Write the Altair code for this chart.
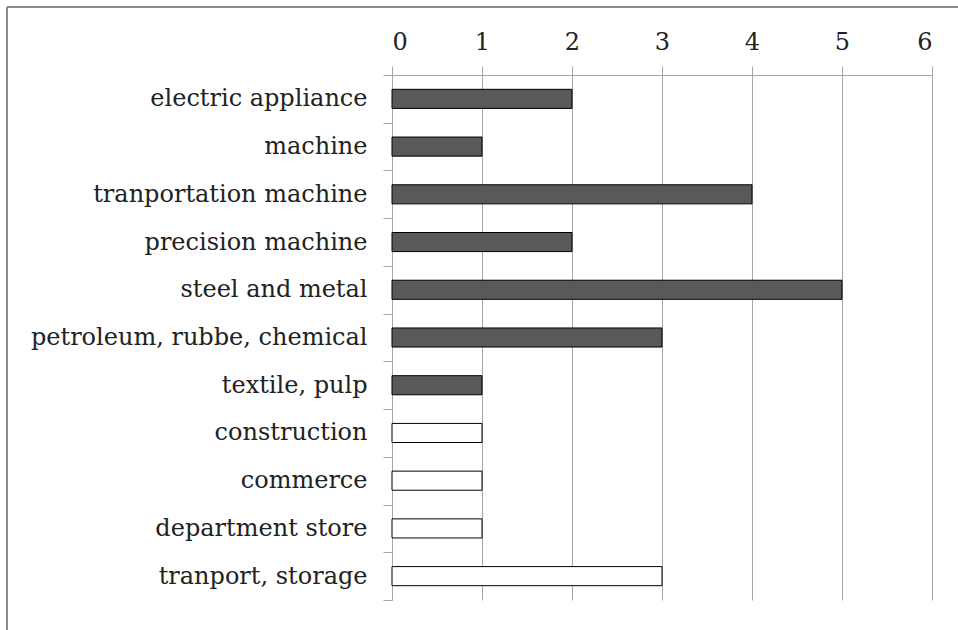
import altair as alt
import pandas as pd

categories = [
    "electric appliance", "machine", "tranportation machine", "precision machine",
    "steel and metal", "petroleum, rubbe, chemical\u2002", "textile, pulp\u2002", "construction",
    "commerce", "department store", "tranport, storage",
]
values = [2, 1, 4, 2, 5, 3, 1, 1, 1, 1, 3]
groups = ["manufacturing"] * 7 + ["non-manufacturing"] * 4

df = pd.DataFrame({"category": categories, "value": values, "group": groups})

FONT = "DejaVu Serif"

bars = alt.Chart(df).mark_bar(
    stroke="black", strokeWidth=1, height=alt.RelativeBandSize(0.4)
).encode(
    x=alt.X("value:Q", scale=alt.Scale(domain=[0, 6], nice=False),
            axis=alt.Axis(orient="top", values=[0, 1, 2, 3, 4, 5, 6], format="d",
                          title=None, grid=True, gridColor="#a6a6a6", gridWidth=1,
                          domainColor="#a6a6a6", tickColor="#a6a6a6", tickSize=9,
                          labelFont=FONT, labelFontSize=24, labelColor="#222",
                          labelPadding=12)),
    y=alt.Y("category:N", sort=categories,
            scale=alt.Scale(paddingInner=0, paddingOuter=0),
            axis=alt.Axis(title=None, tickBand="extent", domainColor="#a6a6a6",
                          tickColor="#a6a6a6", tickSize=9, labelFont=FONT,
                          labelFontSize=24, labelColor="#222", labelPadding=16,
                          labelLimit=400, grid=False)),
    fill=alt.Fill("group:N", scale=alt.Scale(domain=["manufacturing", "non-manufacturing"],
                                             range=["#595959", "#ffffff"]), legend=None),
)

frame_data = alt.Data(values=[{}])
left_line = alt.Chart(frame_data).mark_rule(color="#8c8c8c", strokeWidth=2).encode(
    x=alt.value(-385), y=alt.value(-68), y2=alt.value(600)
)
top_line = alt.Chart(frame_data).mark_rule(color="#8c8c8c", strokeWidth=2).encode(
    x=alt.value(-385), x2=alt.value(640), y=alt.value(-68)
)

chart = alt.layer(bars, left_line, top_line).properties(
    width=540, height=525,
    autosize=alt.AutoSizeParams(type="none"),
    padding={"left": 392, "top": 75, "right": 26, "bottom": 30},
).configure_view(stroke=None)

chart.save("out.html", embed_options={"renderer": "svg", "actions": False})
